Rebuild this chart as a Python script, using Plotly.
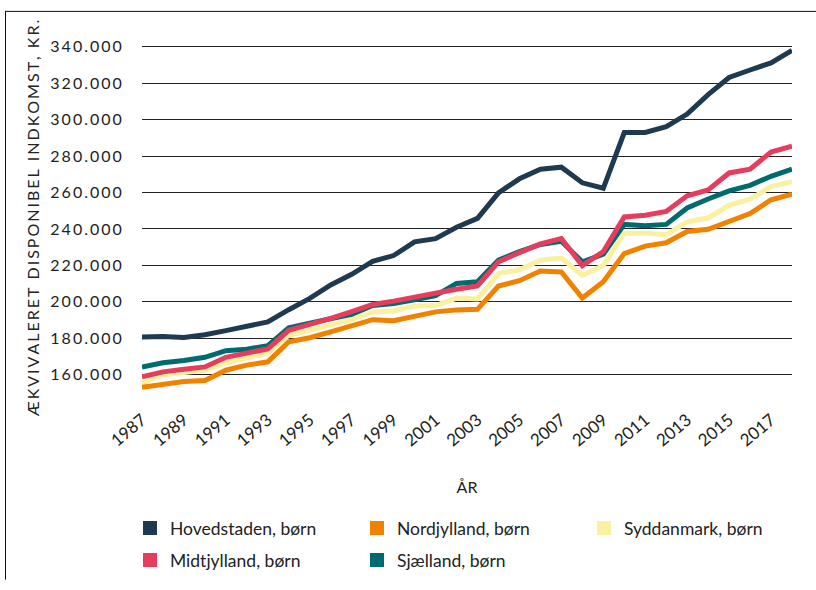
import plotly.graph_objects as go

years = list(range(1987, 2019))

hovedstaden = [180700, 181000, 180500, 182000, 184200, 186400, 189000, 195700, 201900, 209300,
               215100, 222200, 225400, 232900, 234700, 240900, 245800, 259800, 267500, 272800,
               273900, 265300, 262300, 292900, 292900, 296100, 303000, 313700, 323100, 327200,
               331100, 337900]
midtjylland = [158900, 161600, 163000, 164300, 169600, 171900, 174200, 184400, 187400, 190900,
               194700, 198600, 200400, 202700, 204800, 206900, 208700, 222000, 227000, 231800,
               234700, 219900, 227600, 246600, 247500, 249600, 258200, 261400, 270700, 272800,
               282200, 285400]
nordjylland = [153200, 155000, 156300, 156800, 162500, 165300, 167100, 178100, 180300, 183500,
               187000, 190200, 189700, 192400, 194500, 195600, 195900, 208700, 211600, 216900,
               216400, 202100, 211000, 226500, 230600, 232400, 238600, 239800, 243900, 248400,
               256000, 259100]
sjaelland = [164300, 166600, 167800, 169600, 173200, 174000, 176000, 185800, 188300, 190900,
             193200, 198000, 199100, 201200, 203400, 210100, 211000, 222900, 227600, 231500,
             233200, 222000, 226100, 242500, 241800, 242500, 251500, 256400, 260900, 263900,
             268900, 272800]
syddanmark = [155400, 160000, 161200, 162500, 166600, 169200, 171900, 181700, 184400, 187000,
              190200, 194500, 195000, 197700, 198000, 202100, 201600, 215500, 217600, 222900,
              224000, 214600, 219900, 237700, 237700, 236800, 243900, 246000, 252900, 256400,
              263200, 265900]

series_names = ["Hovedstaden, børn", "Midtjylland, børn", "Nordjylland, børn",
                "Sjælland, børn", "Syddanmark, børn"]
series_values = [hovedstaden, midtjylland, nordjylland, sjaelland, syddanmark]
series_colors = ["#1f3a50", "#e63d5f", "#f08200", "#006b6e", "#f9f0a0"]

y_tick_values = [160000, 180000, 200000, 220000, 240000, 260000, 280000, 300000, 320000, 340000]
y_tick_labels = ["160.000", "180.000", "200.000", "220.000", "240.000",
                 "260.000", "280.000", "300.000", "320.000", "340.000"]
x_tick_values = list(range(1987, 2018, 2))
x_tick_labels = [str(v) for v in x_tick_values]

y_title = "ÆKVIVALERET DISPONIBEL INDKOMST, KR."
x_title = "ÅR"

legend_rows = [["Hovedstaden, børn", "Nordjylland, børn", "Syddanmark, børn"],
               ["Midtjylland, børn", "Sjælland, børn"]]

SP = "\u2009"
def spaced(s):
    return SP.join(list(s))

FONT = "Lato"
fig = go.Figure()

# lines, drawn in reverse so Hovedstaden ends on top
for name, vals, col in reversed(list(zip(series_names, series_values, series_colors))):
    fig.add_trace(go.Scatter(x=years, y=vals, mode="lines", name=name,
                             line=dict(color=col, width=5), showlegend=False,
                             legendgroup=name, hoverinfo="skip"))

color_of = dict(zip(series_names, series_colors))
for ri, row in enumerate(legend_rows):
    lg = "legend" if ri == 0 else "legend2"
    for name in row:
        fig.add_trace(go.Scatter(x=[None], y=[None], mode="markers", name=name,
                                 marker=dict(symbol="square", size=14, color=color_of[name]),
                                 legend=lg, legendgroup=name, showlegend=True))

W, H = 816, 590
L, R, T, B = 142, 24, 43, 187
pw, ph = W - L - R, H - T - B

def px_x(px):
    return (px - L) / pw
def px_y(py):
    return (H - B - py) / ph

legend_common = dict(orientation="h", font=dict(family=FONT, size=17.5, color="#222"),
                     entrywidth=182, entrywidthmode="pixels", bgcolor="rgba(0,0,0,0)",
                     xanchor="left", yanchor="middle", itemsizing="trace",
                     traceorder="normal")

fig.update_layout(
    width=W, height=H,
    margin=dict(l=L, r=R, t=T, b=B),
    paper_bgcolor="white", plot_bgcolor="white",
    font=dict(family=FONT, color="#222"),
    legend=dict(x=px_x(130), y=px_y(542), **legend_common),
    legend2=dict(x=px_x(130), y=px_y(575), **legend_common),
    xaxis=dict(range=[1987, 2018], tickvals=x_tick_values, ticktext=x_tick_labels,
               tickangle=-40, showgrid=False, zeroline=False, showline=False,
               tickfont=dict(family=FONT, size=17, color="#222"), ticklabelstandoff=13,
               title=dict(text=x_title, font=dict(family=FONT, size=16, color="#222"), standoff=32),
               automargin=False),
    yaxis=dict(range=[150000, 342000], tickvals=y_tick_values,
               ticktext=[spaced(t) for t in y_tick_labels],
               showgrid=True, gridcolor="#222", gridwidth=1, zeroline=False, showline=False,
               ticks="outside", ticklen=16, tickcolor="rgba(0,0,0,0)",
               tickfont=dict(family=FONT, size=16, color="#222"),
               title=dict(text=spaced(y_title), font=dict(family=FONT, size=16, color="#222"), standoff=6),
               automargin=False),
    shapes=[
        dict(type="line", xref="paper", yref="paper", x0=px_x(5), x1=px_x(W + 5),
             y0=px_y(10.5), y1=px_y(10.5), line=dict(color="#111", width=1)),
        dict(type="line", xref="paper", yref="paper", x0=px_x(5.5), x1=px_x(5.5),
             y0=px_y(10), y1=px_y(H + 5), line=dict(color="#111", width=1)),
    ],
)

fig.write_html("out.html", config={"displayModeBar": False},
               post_script="document.body.style.margin='0';")
